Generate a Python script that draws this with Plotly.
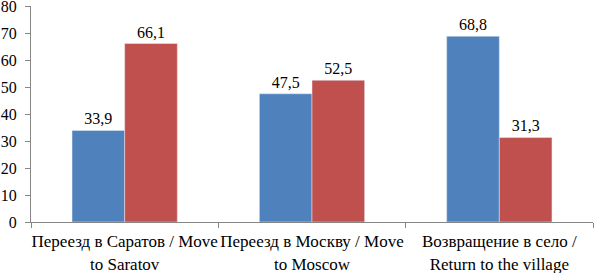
import plotly.graph_objects as go

categories = ["Переезд в Саратов / Move<br>to Saratov",
              "Переезд в Москву / Move<br>to Moscow",
              "Возвращение в село /<br>Return to the village"]
series1 = [33.9, 47.5, 68.8]
series2 = [66.1, 52.5, 31.3]
y_ticks = [0, 10, 20, 30, 40, 50, 60, 70, 80]

font = dict(family="Times New Roman, Liberation Serif, serif", size=16, color="#000000")
xfont = dict(family="Times New Roman, Liberation Serif, serif", size=17, color="#000000")

fig = go.Figure()
fig.add_trace(go.Bar(x=categories, y=series1, marker_color="#4F81BD",
                     text=[f"{v:.1f}".replace(".", ",") for v in series1],
                     textposition="outside", cliponaxis=False, textfont=font))
fig.add_trace(go.Bar(x=categories, y=series2, marker_color="#C0504D",
                     text=[f"{v:.1f}".replace(".", ",") for v in series2],
                     textposition="outside", cliponaxis=False, textfont=font))
fig.update_layout(
    width=594, height=273,
    margin=dict(l=31, r=1, t=6, b=51),
    barmode="group", bargap=0.438, bargroupgap=0,
    showlegend=False,
    plot_bgcolor="white", paper_bgcolor="white",
    font=font,
    xaxis=dict(showline=True, linecolor="#868686", linewidth=1, ticks="outside",
               tickson="boundaries", ticklen=5, tickcolor="#868686", tickangle=0,
               tickfont=xfont, ticklabeloverflow="allow", ticklabelstandoff=4,
               automargin=False),
    yaxis=dict(range=[0, 80], tickvals=y_ticks, showline=True, linecolor="#868686",
               linewidth=1, ticks="outside", ticklen=5, tickcolor="#868686",
               showgrid=False, zeroline=False, tickfont=font,
               ticklabeloverflow="allow", ticklabelstandoff=5, automargin=False),
)
fig.write_html("out.html", config={"displayModeBar": False},
               post_script="document.body.style.margin='0';document.body.style.padding='0';")
